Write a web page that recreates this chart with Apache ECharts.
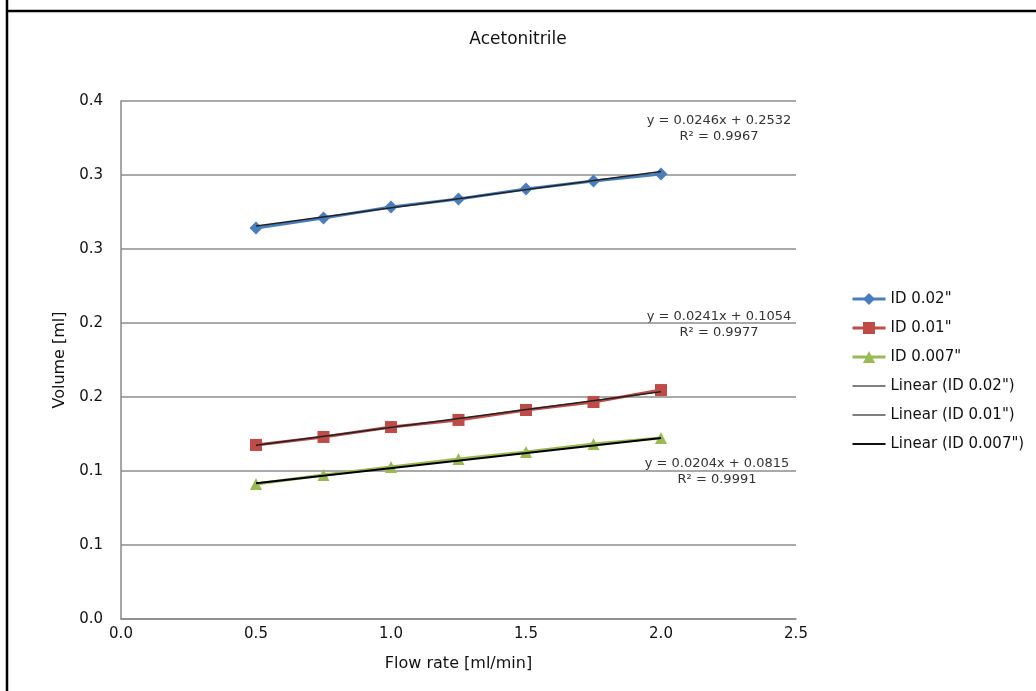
<!DOCTYPE html>
<html>
<head>
<meta charset="utf-8">
<style>
html,body{margin:0;padding:0;background:#fff;}
#chart{width:1036px;height:691px;}
</style>
<script src="https://cdn.jsdelivr.net/npm/echarts@6/dist/echarts.min.js"></script>
</head>
<body>
<div id="chart"></div>
<script>
// ---- data ----
var flowRates = [0.5, 0.75, 1.0, 1.25, 1.5, 1.75, 2.0];
var id002 = [0.2642, 0.2709, 0.2784, 0.2838, 0.2905, 0.2959, 0.3007];
var id001 = [0.1176, 0.1230, 0.1297, 0.1345, 0.1412, 0.1466, 0.1547];
var id0007 = [0.0912, 0.0973, 0.1027, 0.1081, 0.1128, 0.1182, 0.1223];
var seriesNames = ['ID 0.02"', 'ID 0.01"', 'ID 0.007"'];
var trendSlopes = [0.0246, 0.0241, 0.0204];
var trendIntercepts = [0.2532, 0.1054, 0.0815];
var trendR2 = ['0.9967', '0.9977', '0.9991'];
var yTickLabels = ['0.0', '0.1', '0.1', '0.2', '0.2', '0.3', '0.3', '0.4'];
var xTickLabels = ['0.0', '0.5', '1.0', '1.5', '2.0', '2.5'];

var FONT = '"DejaVu Sans", Verdana, sans-serif';
function pairs(xs, ys){ return xs.map(function(x,i){ return [x, ys[i]]; }); }
function trend(k){
  var x0 = flowRates[0], x1 = flowRates[flowRates.length-1];
  return [[x0, trendSlopes[k]*x0 + trendIntercepts[k]], [x1, trendSlopes[k]*x1 + trendIntercepts[k]]];
}
var dataSets = [id002, id001, id0007];
var colors = ['#4A7EBB', '#BE4B48', '#98B954'];
var symbols = ['diamond', 'rect', 'triangle'];
var symSizes = [13, 12, 12];

var series = [];
var legendData = [];
for (var k = 0; k < 3; k++) {
  series.push({
    name: seriesNames[k], type: 'line', data: pairs(flowRates, dataSets[k]),
    symbol: symbols[k], symbolSize: symSizes[k], showSymbol: true,
    lineStyle: {color: colors[k], width: 3},
    itemStyle: {color: colors[k]},
    z: 2, animation: false
  });
  legendData.push({name: seriesNames[k], lineStyle: {color: colors[k], width: 3}});
}
var trendWidths = [1.5, 1.5, 2];
var trendColors = ['#222', '#222', '#000'];
var legendLineColors = ['#555', '#555', '#111'];
for (var k = 0; k < 3; k++) {
  var nm = 'Linear (' + seriesNames[k] + ')';
  series.push({
    name: nm, type: 'line', data: trend(k),
    symbol: 'none', showSymbol: false,
    lineStyle: {color: trendColors[k], width: trendWidths[k]},
    itemStyle: {color: trendColors[k]},
    z: 3, animation: false
  });
  legendData.push({name: nm, itemStyle: {opacity: 0},
    lineStyle: {color: legendLineColors[k], width: trendWidths[k]}});
}

function eqText(k){
  return 'y = ' + trendSlopes[k].toFixed(4) + 'x + ' + trendIntercepts[k].toFixed(4) + '\nR² = ' + trendR2[k];
}
var eqTops = [113, 309, 456];
var eqCenters = [719, 719, 717];
var graphics = [
  {type:'line', shape:{x1:7, y1:0, x2:7, y2:691}, style:{stroke:'#000', lineWidth:2.5}},
  {type:'line', shape:{x1:6, y1:11, x2:1036, y2:11}, style:{stroke:'#000', lineWidth:2.5}}
];
for (var k = 0; k < 3; k++) {
  graphics.push({
    type:'text', x: eqCenters[k], y: eqTops[k],
    style:{text: eqText(k), font: '13px ' + FONT, fill:'#333', align:'center', verticalAlign:'top', lineHeight: 16}
  });
}

var chart = echarts.init(document.getElementById('chart'), null, {renderer:'canvas'});
chart.setOption({
  backgroundColor: '#fff',
  animation: false,
  title: {text: 'Acetonitrile', left: 'center', top: 26,
    textStyle: {fontFamily: FONT, fontSize: 17, fontWeight: 'normal', color: '#111'}},
  grid: {left: 121, right: 240, top: 101, bottom: 72, containLabel: false},
  legend: {
    orient: 'vertical', left: 846, top: 285, itemGap: 11, itemWidth: 33, itemHeight: 15,
    textStyle: {fontFamily: FONT, fontSize: 15, color: '#111', lineHeight: 18},
    data: legendData
  },
  xAxis: {
    type: 'value', min: 0, max: 2.5, interval: 0.5,
    name: 'Flow rate [ml/min]', nameLocation: 'middle', nameGap: 37,
    nameTextStyle: {fontFamily: FONT, fontSize: 16, color: '#111'},
    axisLine: {show: true, lineStyle: {color: '#888', width: 1.5}},
    axisTick: {show: false},
    splitLine: {show: false},
    axisLabel: {fontFamily: FONT, fontSize: 15, color: '#111', margin: 8,
      formatter: function(v){ return xTickLabels[Math.round(v/0.5)]; }}
  },
  yAxis: {
    type: 'value', min: 0, max: 0.35, interval: 0.05,
    name: 'Volume [ml]', nameLocation: 'middle', nameGap: 44,
    nameTextStyle: {fontFamily: FONT, fontSize: 16, color: '#111'},
    axisLine: {show: true, lineStyle: {color: '#888', width: 1.5}},
    axisTick: {show: false},
    splitLine: {show: true, lineStyle: {color: '#8c8c8c', width: 1.5}},
    axisLabel: {fontFamily: FONT, fontSize: 15, color: '#111', margin: 18,
      formatter: function(v){ return yTickLabels[Math.round(v/0.05)]; }}
  },
  series: series,
  graphic: graphics
});
</script>
</body>
</html>
